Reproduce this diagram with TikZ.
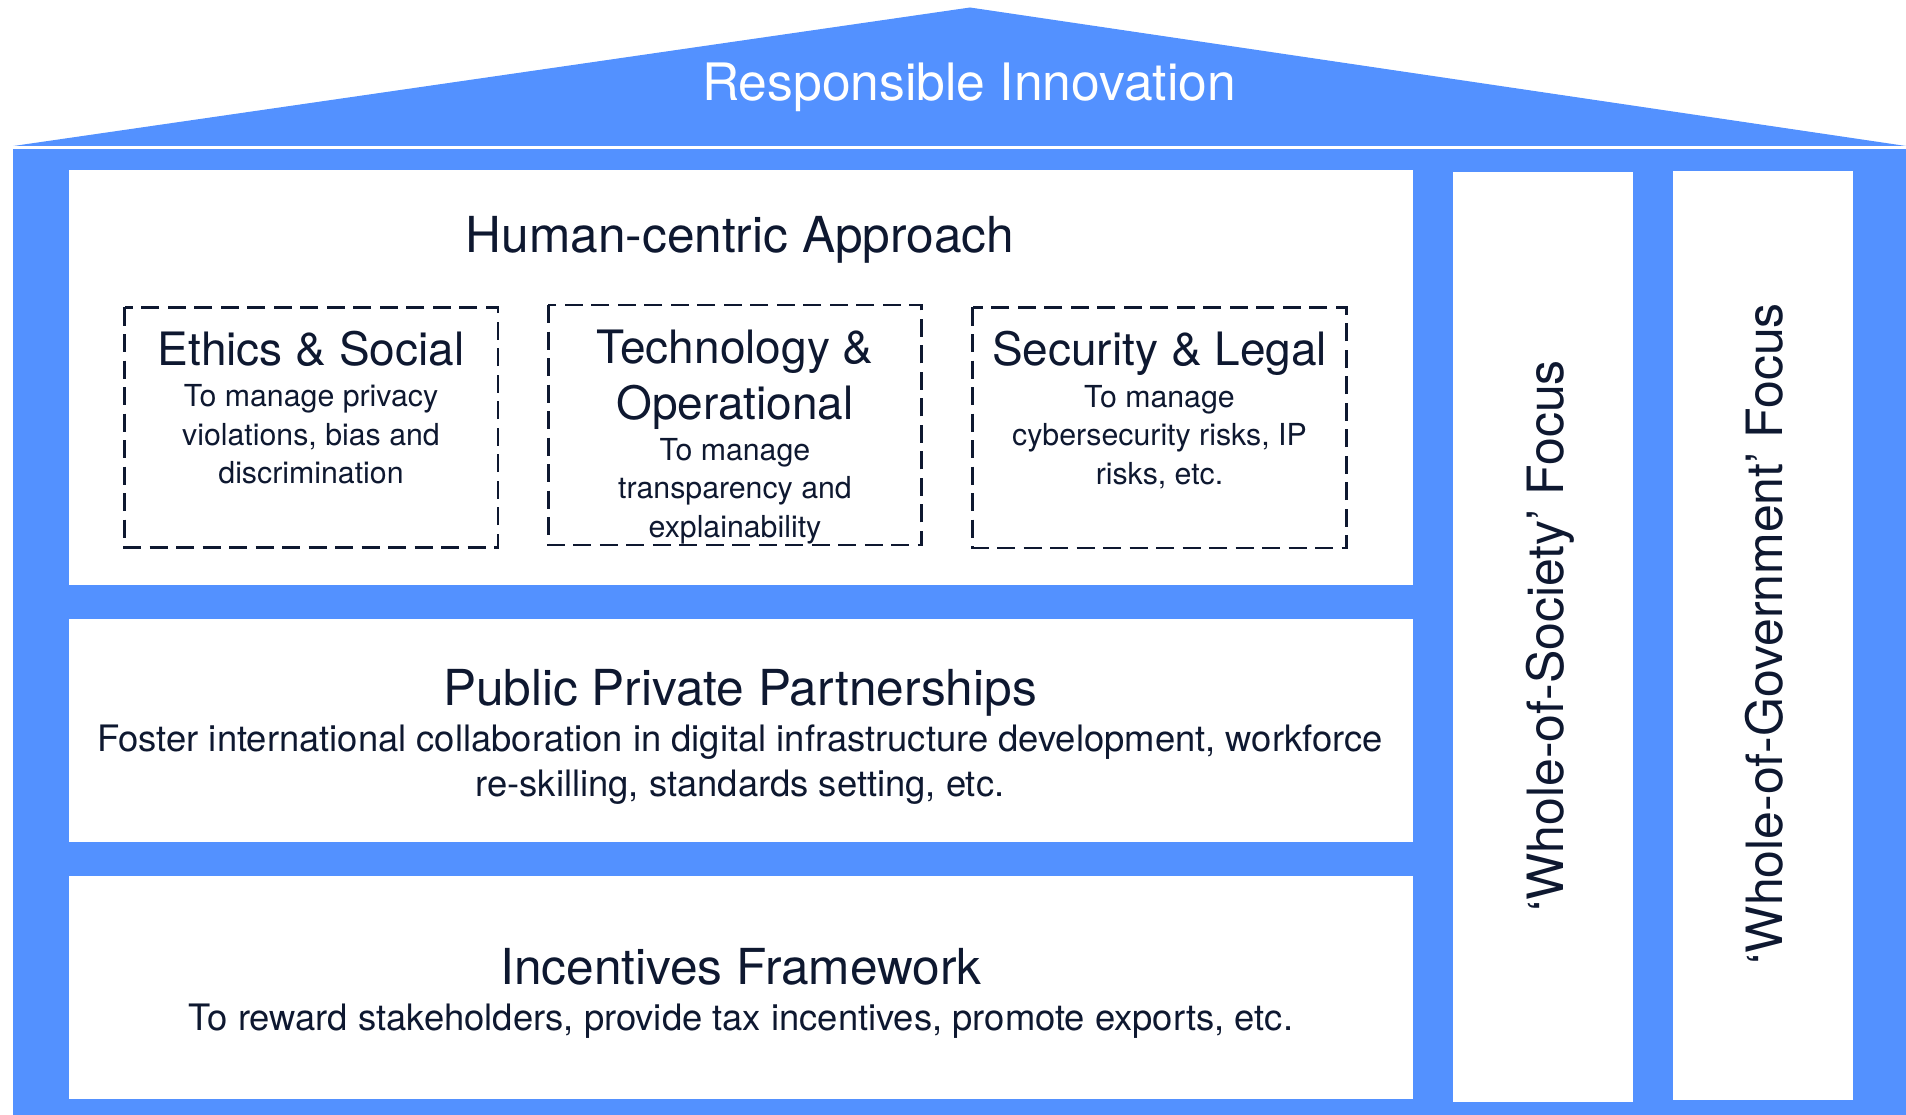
\documentclass[tikz,border=0pt]{standalone}
\usepackage{fontspec}
\setmainfont{TeX Gyre Heros}
\definecolor{houseblue}{RGB}{83,145,255}
\definecolor{ink}{RGB}{14,24,48}
\newcommand{\lines}[1]{\begin{tabular}[t]{@{}c@{}}#1\end{tabular}}
\begin{document}
\begin{tikzpicture}[x=1pt,y=-1pt,
  panel/.style={fill=white},
  dbox/.style={draw=ink,line width=2.7pt,dash pattern=on 18pt off 8.5pt},
  txt/.style={text=ink,inner sep=0pt,anchor=base},
  bigtitle/.style={txt,font=\fontsize{49.6}{58}\selectfont},
  subtitle/.style={txt,font=\fontsize{46}{56}\selectfont},
  smalldesc/.style={txt,font=\fontsize{30.3}{38.5}\selectfont},
  desc/.style={txt,font=\fontsize{36.4}{45}\selectfont},
  vtxt/.style={txt,rotate=90,font=\fontsize{50}{60}\selectfont}
]
\useasboundingbox (0,0) rectangle (1906,1115);
% roof
\fill[houseblue] (13.4,146) -- (970,7.5) -- (1906,146) -- cycle;
% body
\fill[houseblue] (13,149) rectangle (1906,1115);
% panels
\fill[panel] (69,170) rectangle (1413,585);
\fill[panel] (69,619) rectangle (1413,842);
\fill[panel] (69,876) rectangle (1413,1099);
\fill[panel] (1453,172.5) rectangle (1633,1102);
\fill[panel] (1673,171) rectangle (1853,1100);
% dashed boxes
\draw[dbox] (124.5,307.5) rectangle (498,547.5);
\draw[dbox] (548.3,305) rectangle (921.7,545);
\draw[dbox] (972.7,307.5) rectangle (1346.7,548);
% texts
\node[txt,text=white,font=\fontsize{51.6}{60}\selectfont] (roof) at (969,101) {Responsible Innovation};
\node[bigtitle] (hca) at (740,252.3) {Human-centric Approach};
\node[subtitle] (eth) at (311,365) {Ethics \& Social};
\node[smalldesc] (ethd) at (311,406.7) {\lines{To manage privacy\\violations, bias and\\discrimination}};
\node[subtitle] (tech) at (735,363.3) {\lines{Technology \&\\Operational}};
\node[smalldesc] (techd) at (735,460) {\lines{To manage\\transparency and\\explainability}};
\node[subtitle] (sec) at (1159.5,365) {Security \& Legal};
\node[smalldesc] (secd) at (1159.5,407.3) {\lines{To manage\\cybersecurity risks, IP\\risks, etc.}};
\node[bigtitle] (ppp) at (740,705.7) {Public Private Partnerships};
\node[desc] (pppd) at (740,751.7) {\lines{Foster international collaboration in digital infrastructure development, workforce\\re-skilling, standards setting, etc.}};
\node[bigtitle] (inc) at (741,984.3) {Incentives Framework};
\node[desc] (incd) at (741,1030) {To reward stakeholders, provide tax incentives, promote exports, etc.};
\node[vtxt] (soc) at (1563.3,636) {‘Whole-of-Society’ Focus};
\node[vtxt] (gov) at (1782.3,634) {‘Whole-of-Government’ Focus};
\end{tikzpicture}
\end{document}
